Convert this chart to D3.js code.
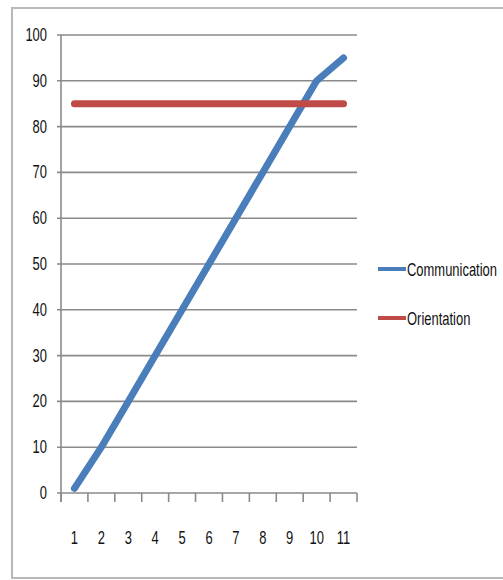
<!DOCTYPE html>
<html>
<head>
<meta charset="utf-8">
<script src="https://cdn.jsdelivr.net/npm/d3@7"></script>
<style>
  html, body { margin: 0; padding: 0; background: #fff; }
  svg { display: block; }
  text { font-family: "Liberation Sans", Arial, sans-serif; fill: #111; }
</style>
</head>
<body>
<svg id="chart" width="503" height="580"></svg>
<script>
// Series data
const categories = [1, 2, 3, 4, 5, 6, 7, 8, 9, 10, 11];
const communication = [1, 10, 20, 30, 40, 50, 60, 70, 80, 90, 95];
const orientation = [85, 85, 85, 85, 85, 85, 85, 85, 85, 85, 85];
const yTicks = [0, 10, 20, 30, 40, 50, 60, 70, 80, 90, 100];
const seriesNames = ["Communication", "Orientation"];
const seriesColors = ["#4a7ebb", "#be4b48"];

const svg = d3.select("#chart");

// Chart frame
svg.append("rect")
  .attr("x", 12).attr("y", 8)
  .attr("width", 500).attr("height", 570)
  .attr("fill", "#fff")
  .attr("stroke", "#b8b8b8")
  .attr("stroke-width", 2);

const plot = { left: 61, right: 357, top: 35, bottom: 493 };

const x = d3.scaleBand()
  .domain(categories)
  .range([plot.left, plot.right])
  .padding(0);

const y = d3.scaleLinear()
  .domain([0, 100])
  .range([plot.bottom, plot.top]);

const squeeze = 0.72;

// Horizontal gridlines with left tick stubs
svg.append("g")
  .selectAll("line")
  .data(yTicks)
  .join("line")
  .attr("x1", plot.left - 4)
  .attr("x2", plot.right)
  .attr("y1", d => y(d))
  .attr("y2", d => y(d))
  .attr("stroke", "#8a8a8a")
  .attr("stroke-width", 1.6);

// Vertical axis line
svg.append("line")
  .attr("x1", plot.left).attr("x2", plot.left)
  .attr("y1", y(100)).attr("y2", plot.bottom + 9)
  .attr("stroke", "#8a8a8a")
  .attr("stroke-width", 1.6);

// Category boundary ticks
const boundaries = categories.map(c => x(c)).concat([x(categories[categories.length - 1]) + x.bandwidth()]);
svg.append("g")
  .selectAll("line")
  .data(boundaries)
  .join("line")
  .attr("x1", d => d).attr("x2", d => d)
  .attr("y1", plot.bottom).attr("y2", plot.bottom + 9)
  .attr("stroke", "#8a8a8a")
  .attr("stroke-width", 1.6);

// Y tick labels (narrow face)
svg.append("g")
  .selectAll("text")
  .data(yTicks)
  .join("text")
  .attr("transform", d => `translate(47,${y(d) + 6}) scale(${squeeze},1)`)
  .attr("text-anchor", "end")
  .attr("font-size", 18)
  .text(d => d);

// X tick labels
svg.append("g")
  .selectAll("text")
  .data(categories)
  .join("text")
  .attr("transform", d => `translate(${x(d) + x.bandwidth() / 2},544) scale(${squeeze},1)`)
  .attr("text-anchor", "middle")
  .attr("font-size", 18)
  .text(d => d);

// Lines
const line = d3.line()
  .x((d, i) => x(categories[i]) + x.bandwidth() / 2)
  .y(d => y(d));

[communication, orientation].forEach((vals, i) => {
  svg.append("path")
    .datum(vals)
    .attr("d", line)
    .attr("fill", "none")
    .attr("stroke", seriesColors[i])
    .attr("stroke-width", 7)
    .attr("stroke-linecap", "round")
    .attr("stroke-linejoin", "round");
});

// Legend
const legend = svg.append("g");
seriesNames.forEach((name, i) => {
  const ly = 269 + i * 49;
  legend.append("line")
    .attr("x1", 378).attr("x2", 406)
    .attr("y1", ly).attr("y2", ly)
    .attr("stroke", seriesColors[i])
    .attr("stroke-width", 4);
  legend.append("text")
    .attr("transform", `translate(407,${ly + 7}) scale(${squeeze},1)`)
    .attr("font-size", 18)
    .text(name);
});
</script>
</body>
</html>
